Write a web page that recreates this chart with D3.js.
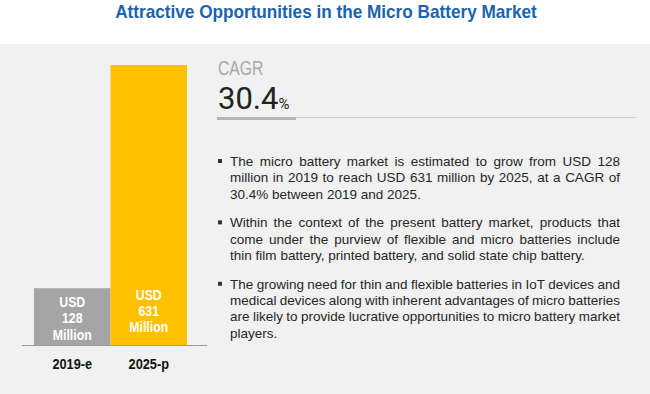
<!DOCTYPE html>
<html>
<head>
<meta charset="utf-8">
<script src="https://cdn.jsdelivr.net/npm/d3@7"></script>
<style>
  body { margin: 0; background: #fff; }
  svg { display: block; }
</style>
</head>
<body>
<div class="canvas"></div>
<script>
const years = ['2019-e', '2025-p'];
const values = [128, 631];
const barColours = ['#a5a5a5', '#ffc000'];
const cagr = '30.4';
const titleText = 'Attractive Opportunities in the Micro Battery Market';
const bullets = [
    ['The micro battery market is estimated to grow from USD 128',
     'million in 2019 to reach USD 631 million by 2025, at a CAGR of',
     '30.4% between 2019 and 2025.'],
    ['Within the context of the present battery market, products that',
     'come under the purview of flexible and micro batteries include',
     'thin film battery, printed battery, and solid state chip battery.'],
    ['The growing need for thin and flexible batteries in IoT devices and',
     'medical devices along with inherent advantages of micro batteries',
     'are likely to provide lucrative opportunities to micro battery market',
     'players.']
];

const dims = { width: 650, height: 394, bandTop: 44 };
const sans = '"Liberation Sans", Arial, sans-serif';
const narrowK = 0.82; // squeeze to mimic a condensed face

const svg = d3.select('.canvas')
    .append('svg')
    .attr('width', dims.width)
    .attr('height', dims.height)
    .attr('font-family', sans);

svg.append('rect')
    .attr('y', dims.bandTop)
    .attr('width', dims.width)
    .attr('height', dims.height - dims.bandTop)
    .attr('fill', '#f1f1f1');

svg.append('text')
    .attr('transform', 'translate(326, 18) scale(0.955, 1)')
    .attr('text-anchor', 'middle')
    .attr('font-size', 18)
    .attr('font-weight', 'bold')
    .attr('fill', '#1a64ad')
    .text(titleText);

// bars
const x = d3.scaleBand().domain(years).range([34, 187]).padding(0);
const y = d3.scaleLinear().domain([0, 631]).range([345, 65]);

const bars = svg.append('g');
bars.selectAll('rect')
    .data(values)
    .enter()
    .append('rect')
    .attr('x', (d, i) => x(years[i]))
    .attr('y', d => y(d))
    .attr('width', x.bandwidth())
    .attr('height', d => y(0) - y(d))
    .attr('fill', (d, i) => barColours[i]);

svg.append('line')
    .attr('x1', 22).attr('x2', 207)
    .attr('y1', y(0) + 0.5).attr('y2', y(0) + 0.5)
    .attr('stroke', '#9a9a9a');

const labels = bars.selectAll('.barLabel')
    .data(values)
    .enter()
    .append('text')
    .attr('class', 'barLabel')
    .attr('text-anchor', 'middle')
    .attr('font-weight', 'bold')
    .attr('font-size', 15)
    .attr('fill', '#fff')
    .attr('transform', (d, i) => {
        const mid = Math.max((y(d) + y(0)) / 2 + 1.5, y(0) - 34);
        return `translate(${x(years[i]) + x.bandwidth() / 2}, ${mid}) scale(${narrowK}, 1)`;
    });

labels.selectAll('tspan')
    .data(d => ['USD', d, 'Million'])
    .enter()
    .append('tspan')
    .attr('x', 0)
    .attr('y', (d, i) => (i - 1) * 16.5 + 5)
    .text(d => d);

svg.append('g').selectAll('text')
    .data(years)
    .enter()
    .append('text')
    .attr('transform', d => `translate(${x(d) + x.bandwidth() / 2}, 369) scale(0.85, 1)`)
    .attr('text-anchor', 'middle')
    .attr('font-weight', 'bold')
    .attr('font-size', 15)
    .attr('fill', '#111')
    .text(d => d);

// CAGR block
svg.append('text')
    .attr('transform', 'translate(218, 75) scale(0.75, 1)')
    .attr('font-size', 21)
    .attr('fill', '#a9a9a9')
    .text('CAGR');

const big = svg.append('text')
    .attr('x', 218).attr('y', 109)
    .attr('font-family', 'Roboto, sans-serif')
    .attr('font-size', 31)
    .attr('fill', '#222');
big.append('tspan').text(cagr);
big.append('tspan').attr('font-size', 15).text('%');

svg.append('line')
    .attr('x1', 217).attr('x2', 636)
    .attr('y1', 117.5).attr('y2', 117.5)
    .attr('stroke', '#d0d0d0');
svg.append('rect')
    .attr('x', 217).attr('y', 117)
    .attr('width', 79).attr('height', 3)
    .attr('fill', '#b5b5b5');

// bullet text, justified
const textLeft = 230, textRight = 620, lineH = 16.3, paraGap = 12.5;
const bodyGroup = svg.append('g')
    .attr('font-size', 13.5)
    .attr('fill', '#262626');

let baseY = 166;
bullets.forEach(para => {
    bodyGroup.append('rect')
        .attr('x', 218).attr('y', baseY - 7)
        .attr('width', 4).attr('height', 4)
        .attr('fill', '#333');
    para.forEach((line, li) => {
        const words = line.split(' ');
        const last = li === para.length - 1;
        const nodes = words.map(w => bodyGroup.append('text').attr('y', baseY).text(w));
        const widths = nodes.map(n => n.node().getComputedTextLength());
        const total = d3.sum(widths);
        const gap = last ? 3.8 : (textRight - textLeft - total) / (words.length - 1);
        let cx = textLeft;
        nodes.forEach((n, i) => {
            n.attr('x', cx);
            cx += widths[i] + gap;
        });
        baseY += lineH;
    });
    baseY += paraGap;
});
</script>
</body>
</html>
